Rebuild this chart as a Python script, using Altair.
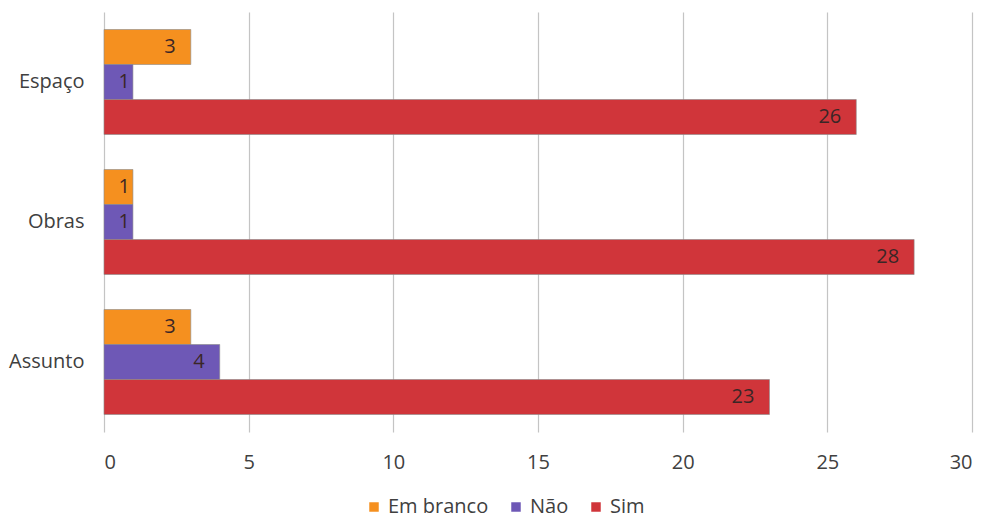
import altair as alt
import pandas as pd

categories = ["Espaço", "Obras", "Assunto"]
series = ["Em branco", "Não", "Sim"]
em_branco = [3, 1, 3]
nao = [1, 1, 4]
sim = [26, 28, 23]
colors = ["#F5901F", "#6E58B6", "#D0353A"]
x_ticks = [0, 5, 10, 15, 20, 25, 30]

rows = []
for i, c in enumerate(categories):
    for s, vals in zip(series, [em_branco, nao, sim]):
        rows.append({"categoria": c, "serie": s, "valor": vals[i]})
df = pd.DataFrame(rows)

FONT = "Open Sans"
TXT = "#404040"

y_enc = alt.Y("categoria:N", sort=categories, title=None,
              scale=alt.Scale(paddingInner=0.25, paddingOuter=0.125),
              axis=alt.Axis(domain=False, ticks=False, labelFontSize=20,
                            labelColor=TXT, labelPadding=20, labelFont=FONT))
yoff_enc = alt.YOffset("serie:N", sort=series,
                       scale=alt.Scale(paddingInner=0, paddingOuter=0))
x_enc = alt.X("valor:Q", title=None,
              scale=alt.Scale(domain=[0, 30], nice=False),
              axis=alt.Axis(values=x_ticks, grid=True, gridColor="#c4c4c4",
                            gridWidth=1.2, domain=False, ticks=False,
                            labelFontSize=20, labelColor=TXT,
                            labelPadding=20, labelFont=FONT))

bars = alt.Chart(df).mark_bar(stroke="#8a8a8a", strokeWidth=0.6).encode(
    y=y_enc,
    yOffset=yoff_enc,
    x=x_enc,
    color=alt.Color("serie:N", sort=series,
                    scale=alt.Scale(domain=series, range=colors),
                    legend=alt.Legend(title=None, orient="none", direction="horizontal",
                                      legendX=260, legendY=485,
                                      symbolType="square", symbolSize=90,
                                      symbolStrokeWidth=0, labelOffset=4,
                                      labelFontSize=20, labelColor=TXT,
                                      labelFont=FONT, columnPadding=17)),
)

def label_layer(cond, dx):
    return alt.Chart(df).transform_filter(cond).mark_text(
        align="right", baseline="middle", dx=dx,
        fontSize=20, color="#3a2626", font=FONT).encode(
        y=alt.Y("categoria:N", sort=categories),
        yOffset=alt.YOffset("serie:N", sort=series),
        x=alt.X("valor:Q"),
        text=alt.Text("valor:Q"),
    )

labels_big = label_layer(alt.datum.valor > 1, -15)
labels_small = label_layer(alt.datum.valor <= 1, -3)

chart = (bars + labels_big + labels_small).properties(
    width=868, height=420,
    autosize=alt.AutoSizeParams(type="none"),
    padding={"left": 96, "top": 4, "right": 9, "bottom": 90},
    background="white",
).configure_view(stroke=None)

chart.save("out.html", embed_options={"renderer": "svg", "actions": False})
